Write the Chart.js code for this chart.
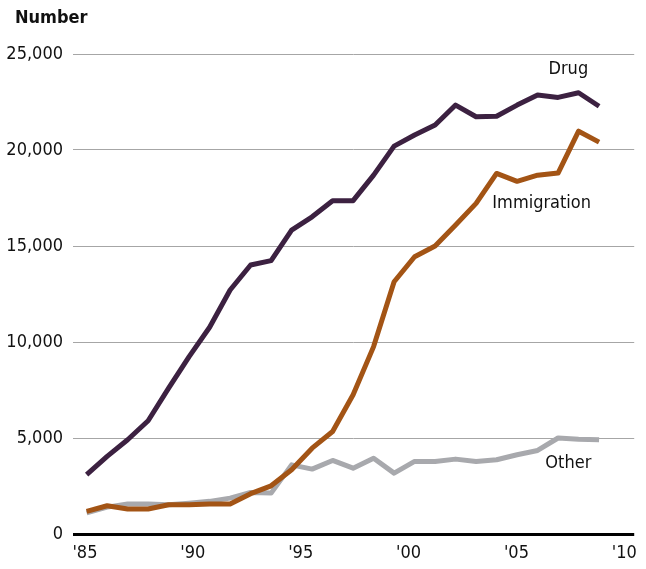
<!DOCTYPE html>
<html>
<head>
<meta charset="utf-8">
<script src="https://cdn.jsdelivr.net/npm/chart.js@4"></script>
<style>
    body { margin: 0; background: #ffffff; }
    canvas { display: block; }
</style>
</head>
<body>
<canvas id="offenseChart" width="646" height="569"></canvas>
<script>
const years = [1985, 1986, 1987, 1988, 1989, 1990, 1991, 1992, 1993, 1994, 1995, 1996, 1997,
    1998, 1999, 2000, 2001, 2002, 2003, 2004, 2005, 2006, 2007, 2008, 2009, 2010];

const drug = [3090, 4040, 4910, 5900, 7600, 9240, 10770, 12710, 14010, 14240, 15830, 16520, 17360,
    17360, 18690, 20200, 20780, 21300, 22340, 21730, 21760, 22340, 22860, 22740, 22980, 22280];

const immigration = [1180, 1470, 1300, 1300, 1520, 1520, 1560, 1560, 2100, 2510, 3350, 4470, 5340,
    7250, 9760, 13140, 14440, 15000, 16090, 17220, 18780, 18370, 18690, 18800, 20980, 20410];

const other = [1100, 1400, 1560, 1560, 1520, 1600, 1700, 1870, 2160, 2130, 3600, 3380, 3830,
    3430, 3950, 3170, 3780, 3780, 3900, 3780, 3870, 4130, 4350, 5000, 4940, 4910];

const tickYears = [1985, 1990, 1995, 2000, 2005, 2010];
const tickLabels = ["'85", "'90", "'95", "'00", "'05", "'10"];

// series name labels, placed in data units
const seriesNames = ["Drug", "Immigration", "Other"];
const nameYears = [2008.5, 2007.2, 2008.5];
const nameValues = [23950, 17000, 3420];

const font = "'DejaVu Sans Condensed', 'Liberation Sans', sans-serif";

function points(values) {
    return years.map((year, i) => ({ x: year, y: values[i] }));
}

const extraText = {
    id: "extraText",
    afterDatasetsDraw(chart) {
        const ctx = chart.ctx;
        const xs = chart.scales.x;
        const ys = chart.scales.y;

        ctx.save();
        ctx.fillStyle = "#111111";

        ctx.font = "bold 18px " + font;
        ctx.textAlign = "left";
        ctx.textBaseline = "alphabetic";
        ctx.fillText("Number", 15, 23);

        ctx.font = "18px " + font;
        ctx.textAlign = "center";
        seriesNames.forEach((name, i) => {
            ctx.fillText(name, xs.getPixelForValue(nameYears[i]), ys.getPixelForValue(nameValues[i]));
        });
        ctx.restore();
    }
};

new Chart(document.getElementById("offenseChart"), {
    type: "line",

    data: {
        datasets: [
            {
                label: "Drug",
                data: points(drug),
                borderColor: "#3c2141",
                borderWidth: 5
            },
            {
                label: "Immigration",
                data: points(immigration),
                borderColor: "#a35415",
                borderWidth: 5
            },
            {
                label: "Other",
                data: points(other),
                borderColor: "#a8a9ad",
                borderWidth: 5
            }
        ]
    },

    options: {
        responsive: false,
        animation: false,
        elements: {
            point: { radius: 0 },
            line: { tension: 0, borderJoinStyle: "round", borderCapStyle: "butt" }
        },
        layout: {
            padding: { top: 54, right: 9, left: 0, bottom: 0 }
        },
        plugins: {
            legend: { display: false },
            tooltip: { enabled: false }
        },
        scales: {
            x: {
                type: "linear",
                display: false,
                min: 1984.335,
                max: 2011.714
            },
            xLabels: {
                type: "linear",
                position: "bottom",
                min: 1984.446,
                max: 2010.461,
                grid: { display: false, drawTicks: false },
                border: { display: false },
                afterBuildTicks(scale) {
                    scale.ticks = tickYears.map(v => ({ value: v }));
                },
                afterFit(scale) {
                    scale.height = 35;
                },
                ticks: {
                    padding: 9,
                    maxRotation: 0,
                    color: "#111111",
                    font: { family: font, size: 18 },
                    callback: (value, index) => tickLabels[index]
                }
            },
            y: {
                min: 0,
                max: 25000,
                afterFit(scale) {
                    scale.width = 73;
                },
                border: { display: false },
                grid: {
                    drawTicks: false,
                    color: ctx => ctx.tick.value === 0 ? "#000000" : "#a6a6a6",
                    lineWidth: ctx => ctx.tick.value === 0 ? 3 : 1
                },
                ticks: {
                    stepSize: 5000,
                    padding: 10,
                    color: "#111111",
                    font: { family: font, size: 18 },
                    callback: value => value.toLocaleString("en-US")
                }
            }
        }
    },

    plugins: [extraText]
});
</script>
</body>
</html>
